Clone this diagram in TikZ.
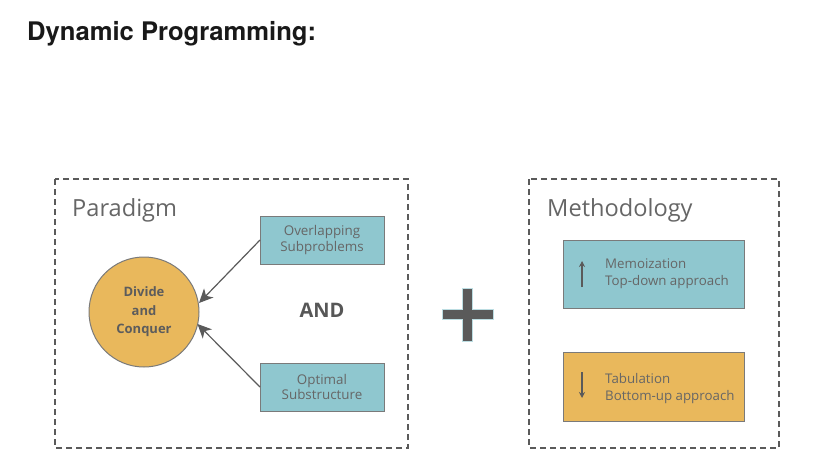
\documentclass[tikz,border=0pt]{standalone}
\usepackage{fontspec}
\setmainfont{Open Sans}
\newfontfamily\titlefont{TeX Gyre Heros}
\usetikzlibrary{arrows.meta}
\definecolor{boxblue}{HTML}{8FC7CF}
\definecolor{boxorange}{HTML}{E9B85C}
\definecolor{txtgray}{HTML}{666666}
\definecolor{linegray}{HTML}{5A5A5A}
\definecolor{edgegray}{HTML}{7A7A7A}
\begin{document}
\begin{tikzpicture}[x=1pt,y=-1pt,
  frame/.style={draw=linegray, line width=1.8pt, dash pattern=on 6pt off 4pt},
  bluebox/.style={draw=edgegray, fill=boxblue, line width=1pt},
  orangebox/.style={draw=edgegray, fill=boxorange, line width=1pt},
  boxtext/.style={text=txtgray, font=\fontsize{13.4}{15.5}\selectfont, align=center},
  heading/.style={text=txtgray, font=\fontsize{23.6}{28}\selectfont, anchor=base west},
  conn/.style={draw=linegray, line width=1.2pt, -{Stealth[length=14pt,width=13pt,inset=4pt]}},
  smallarrow/.style={draw=linegray, line width=1.3pt, -{Stealth[length=6pt,width=6pt]}},
  lefttext/.style={anchor=base west, inner sep=0pt, text=txtgray, font=\fontsize{13.3}{17}\selectfont}]
\useasboundingbox (0,0) rectangle (813,467);
\node[anchor=base west, inner sep=0pt, font=\titlefont\bfseries\fontsize{25.6}{30}\selectfont, text=black!90] (title) at (27,40) {Dynamic Programming:};
% frames
\draw[frame] (55,179) rectangle (408,448);
\draw[frame] (529,179) rectangle (779,448);
\node[heading, inner sep=0pt] (paradigm) at (72,216) {Paradigm};
\node[heading, inner sep=0pt] (method) at (547,216) {Methodology};
% circle
\node[circle, draw=edgegray, fill=boxorange, line width=1pt, minimum size=110pt, inner sep=0pt, text=txtgray!90!black, font=\fontsize{13}{18.5}\selectfont\bfseries, align=center] (dc) at (144,312) {Divide\\and\\Conquer};
% boxes
\path[bluebox] (260,216) rectangle (384,264);
\node[boxtext] (over) at (322,240) {Overlapping\\Subproblems};
\path[bluebox] (260,363) rectangle (384,411);
\node[boxtext] (opt) at (322,387) {Optimal\\Substructure};
\coordinate (overL) at (260,240);
\coordinate (optL) at (260,387);
\coordinate (tip1) at (199,303);
\coordinate (tip2) at (197.5,324);
\draw[conn] (overL) -- (tip1);
\draw[conn] (optL) -- (tip2);
\node[text=txtgray!85!black, font=\fontsize{20}{24}\selectfont\bfseries] (and) at (322,310) {AND};
% plus
\fill[draw=boxblue!60, line width=0.6pt, fill=linegray] (462,288) -- (472,288) -- (472,309) -- (493,309) -- (493,319) -- (472,319) -- (472,341) -- (462,341) -- (462,319) -- (442,319) -- (442,309) -- (462,309) -- cycle;
% methodology boxes
\path[bluebox] (563,240) rectangle (744,308);
\path[orangebox] (563,352) rectangle (744,421);
\node[lefttext] (memo) at (605,268) {Memoization};
\node[lefttext] (memo2) at (605,285.5) {Top-down approach};
\node[lefttext] (tab) at (605,383) {Tabulation};
\node[lefttext] (tab2) at (605,400.5) {Bottom-up approach};
\coordinate (ua) at (582,287);
\coordinate (ub) at (582,261);
\coordinate (da) at (582,372);
\coordinate (db) at (582,398);
\draw[smallarrow] (ua) -- (ub);
\draw[smallarrow] (da) -- (db);
\end{tikzpicture}
\end{document}
